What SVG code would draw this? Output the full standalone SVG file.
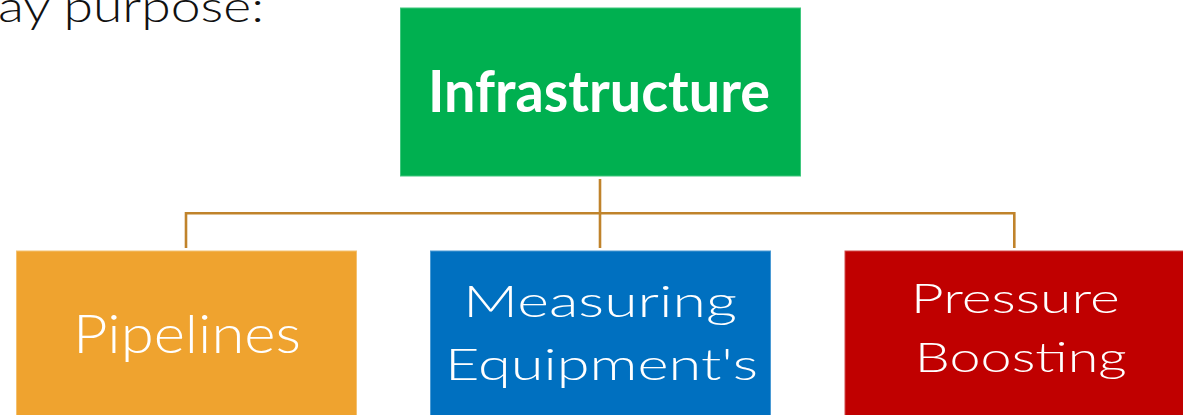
<svg xmlns="http://www.w3.org/2000/svg" width="1183" height="415" viewBox="0 0 1183 415">
  <style>
    .box { stroke-width: 1; }
    .label { font-family: "Lato", "Liberation Sans", sans-serif; font-weight: 300; fill: #ffffff; text-anchor: middle; }
    .link { fill: none; stroke: #C0832B; stroke-width: 2.6; }
  </style>
  <rect x="0" y="0" width="1183" height="415" fill="#ffffff"/>

  <!-- heading fragment, clipped by the top edge -->
  <text x="-2" y="21.7" font-family="Lato, 'Liberation Sans', sans-serif" font-weight="300" font-size="43" fill="#111111" textLength="266" lengthAdjust="spacingAndGlyphs">ay purpose:</text>

  <!-- connectors -->
  <g id="connectors">
    <path class="link" d="M600,179 V248"/>
    <path class="link" d="M186,248 V213.3 H1014.3 V248"/>
  </g>

  <g id="node-infrastructure">
    <rect class="box" x="400.5" y="8" width="400" height="168" fill="#00B050" stroke="#3fc77d"/>
    <text x="599" y="111.5" font-family="Lato, 'Liberation Sans', sans-serif" font-weight="bold" fill="#ffffff" text-anchor="middle" font-size="57" textLength="342" lengthAdjust="spacingAndGlyphs">Infrastructure</text>
  </g>

  <g id="node-pipelines">
    <rect class="box" x="16.5" y="251" width="340" height="180" fill="#EFA32F" stroke="#f4c170"/>
    <text class="label" x="187" y="353" font-size="54" textLength="228" lengthAdjust="spacingAndGlyphs">Pipelines</text>
  </g>

  <g id="node-measuring">
    <rect class="box" x="430.5" y="251" width="340" height="180" fill="#0070C0" stroke="#4a9ad4"/>
    <text class="label" x="600" y="316.7" font-size="44" textLength="274" lengthAdjust="spacingAndGlyphs">Measuring</text>
    <text class="label" x="601.5" y="380" font-size="44" textLength="313" lengthAdjust="spacingAndGlyphs">Equipment's</text>
  </g>

  <g id="node-pressure">
    <rect class="box" x="845" y="251" width="345" height="180" fill="#C00000" stroke="#d24a4a"/>
    <text class="label" x="1015.3" y="313.3" font-size="42" textLength="209" lengthAdjust="spacingAndGlyphs">Pressure</text>
    <text class="label" x="1020.8" y="371.7" font-size="42" textLength="212" lengthAdjust="spacingAndGlyphs">Boosting</text>
  </g>
</svg>
